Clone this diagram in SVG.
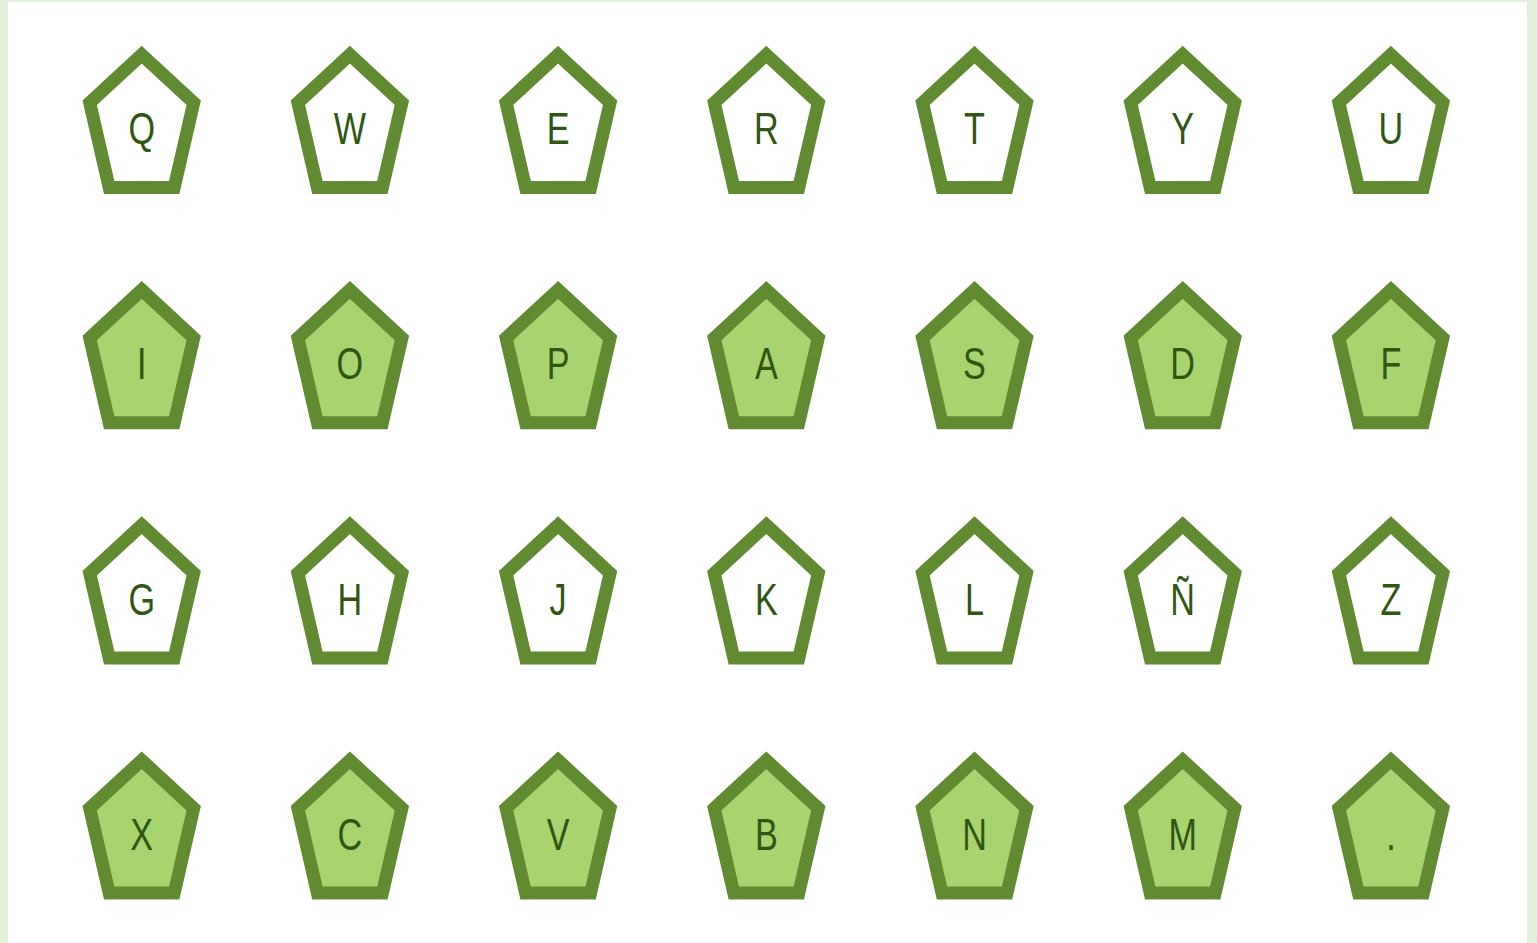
<svg xmlns="http://www.w3.org/2000/svg" width="1537" height="943" viewBox="0 0 1537 943">
<style>
.p{stroke:#608b30;stroke-width:13;stroke-linejoin:miter;stroke-miterlimit:10}
.w{fill:#ffffff}
.g{fill:#a7d46f}
.t{font-family:"Liberation Sans",Arial,sans-serif;font-size:45px;fill:#2f5713;text-anchor:middle}
</style>
<defs>
<path id="pent" d="M0,0 L52,48 L32.5,132.8 L-32.5,132.8 L-52,48 Z"/>
</defs>
<rect x="0" y="0" width="1537" height="943" fill="#e2efda"/>
<rect x="8" y="2" width="1519" height="941" fill="#ffffff"/>
<g id="connectors"></g>
<g id="n-Q" transform="translate(141.7,54.7)"><use href="#pent" class="p w"/><text class="t" transform="translate(0,89.5) scale(0.76,1)">Q</text></g>
<g id="n-W" transform="translate(349.9,54.7)"><use href="#pent" class="p w"/><text class="t" transform="translate(0,89.5) scale(0.76,1)">W</text></g>
<g id="n-E" transform="translate(558.1,54.7)"><use href="#pent" class="p w"/><text class="t" transform="translate(0,89.5) scale(0.76,1)">E</text></g>
<g id="n-R" transform="translate(766.3,54.7)"><use href="#pent" class="p w"/><text class="t" transform="translate(0,89.5) scale(0.76,1)">R</text></g>
<g id="n-T" transform="translate(974.5,54.7)"><use href="#pent" class="p w"/><text class="t" transform="translate(0,89.5) scale(0.76,1)">T</text></g>
<g id="n-Y" transform="translate(1182.7,54.7)"><use href="#pent" class="p w"/><text class="t" transform="translate(0,89.5) scale(0.76,1)">Y</text></g>
<g id="n-U" transform="translate(1390.9,54.7)"><use href="#pent" class="p w"/><text class="t" transform="translate(0,89.5) scale(0.76,1)">U</text></g>
<g id="n-I" transform="translate(141.7,289.9)"><use href="#pent" class="p g"/><text class="t" transform="translate(0,89.5) scale(0.76,1)">I</text></g>
<g id="n-O" transform="translate(349.9,289.9)"><use href="#pent" class="p g"/><text class="t" transform="translate(0,89.5) scale(0.76,1)">O</text></g>
<g id="n-P" transform="translate(558.1,289.9)"><use href="#pent" class="p g"/><text class="t" transform="translate(0,89.5) scale(0.76,1)">P</text></g>
<g id="n-A" transform="translate(766.3,289.9)"><use href="#pent" class="p g"/><text class="t" transform="translate(0,89.5) scale(0.76,1)">A</text></g>
<g id="n-S" transform="translate(974.5,289.9)"><use href="#pent" class="p g"/><text class="t" transform="translate(0,89.5) scale(0.76,1)">S</text></g>
<g id="n-D" transform="translate(1182.7,289.9)"><use href="#pent" class="p g"/><text class="t" transform="translate(0,89.5) scale(0.76,1)">D</text></g>
<g id="n-F" transform="translate(1390.9,289.9)"><use href="#pent" class="p g"/><text class="t" transform="translate(0,89.5) scale(0.76,1)">F</text></g>
<g id="n-G" transform="translate(141.7,525.1)"><use href="#pent" class="p w"/><text class="t" transform="translate(0,89.5) scale(0.76,1)">G</text></g>
<g id="n-H" transform="translate(349.9,525.1)"><use href="#pent" class="p w"/><text class="t" transform="translate(0,89.5) scale(0.76,1)">H</text></g>
<g id="n-J" transform="translate(558.1,525.1)"><use href="#pent" class="p w"/><text class="t" transform="translate(0,89.5) scale(0.76,1)">J</text></g>
<g id="n-K" transform="translate(766.3,525.1)"><use href="#pent" class="p w"/><text class="t" transform="translate(0,89.5) scale(0.76,1)">K</text></g>
<g id="n-L" transform="translate(974.5,525.1)"><use href="#pent" class="p w"/><text class="t" transform="translate(0,89.5) scale(0.76,1)">L</text></g>
<g id="n-NN" transform="translate(1182.7,525.1)"><use href="#pent" class="p w"/><text class="t" transform="translate(0,89.5) scale(0.76,1)">Ñ</text></g>
<g id="n-Z" transform="translate(1390.9,525.1)"><use href="#pent" class="p w"/><text class="t" transform="translate(0,89.5) scale(0.76,1)">Z</text></g>
<g id="n-X" transform="translate(141.7,760.3)"><use href="#pent" class="p g"/><text class="t" transform="translate(0,89.5) scale(0.76,1)">X</text></g>
<g id="n-C" transform="translate(349.9,760.3)"><use href="#pent" class="p g"/><text class="t" transform="translate(0,89.5) scale(0.76,1)">C</text></g>
<g id="n-V" transform="translate(558.1,760.3)"><use href="#pent" class="p g"/><text class="t" transform="translate(0,89.5) scale(0.76,1)">V</text></g>
<g id="n-B" transform="translate(766.3,760.3)"><use href="#pent" class="p g"/><text class="t" transform="translate(0,89.5) scale(0.76,1)">B</text></g>
<g id="n-N" transform="translate(974.5,760.3)"><use href="#pent" class="p g"/><text class="t" transform="translate(0,89.5) scale(0.76,1)">N</text></g>
<g id="n-M" transform="translate(1182.7,760.3)"><use href="#pent" class="p g"/><text class="t" transform="translate(0,89.5) scale(0.76,1)">M</text></g>
<g id="n-dot" transform="translate(1390.9,760.3)"><use href="#pent" class="p g"/><text class="t" transform="translate(0,89.5) scale(0.76,1)">.</text></g>
</svg>
